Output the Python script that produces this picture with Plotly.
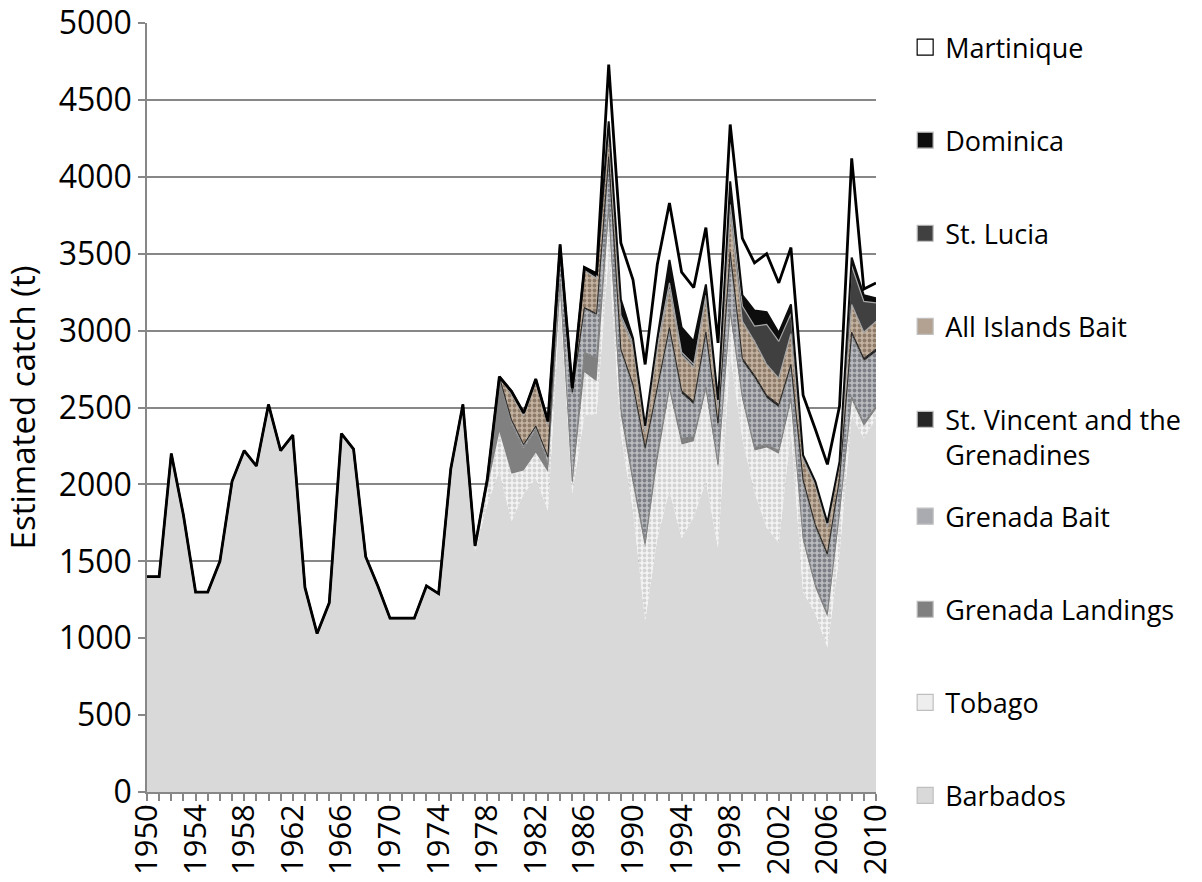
import plotly.graph_objects as go

years = list(range(1950, 2011))

barbados = [1400, 1400, 2200, 1800, 1300, 1300, 1500, 2020, 2220, 2120,
            2520, 2220, 2320, 1330, 1030, 1230, 2330, 2230, 1530, 1340,
            1130, 1130, 1130, 1340, 1290, 2100, 2520, 1560, 1870, 2090,
            1760, 1940, 2040, 1830, 3200, 1940, 2450, 2460, 3500, 2330,
            1830, 1115, 1650, 1960, 1650, 1790, 2020, 1590, 2850, 2300,
            1950, 1720, 1620, 2350, 1300, 1160, 940, 1550, 2450, 2300, 2430]

zeros27 = [0] * 27  # 1950-1976

tobago = zeros27 + [40, 110, 250, 310, 150, 165, 250, 80, 60, 280,
                    210, 250, 120, 170, 475, 500, 650, 610, 490, 590,
                    520, 250, 250, 270, 520, 580, 190, 330, 170, 200,
                    250, 100, 80, 60]
grenada_landings = zeros27 + [0, 50, 340, 320, 140, 150, 50, 30, 20, 130,
                              150, 50, 50, 30, 30, 50, 20, 40, 30, 20,
                              20, 30, 20, 20, 20, 20, 20, 20, 20, 20,
                              20, 20, 20, 20]
grenada_bait = zeros27 + [0, 0, 10, 20, 20, 15, 40, 200, 570, 280,
                          280, 300, 366, 600, 600, 400, 370, 290, 210, 340,
                          250, 350, 230, 450, 300, 280, 200, 360, 370, 370,
                          200, 400, 400, 350]
st_vincent = zeros27 + [0, 0, 10, 10, 10, 10, 10, 10, 10, 10,
                        10, 30, 14, 20, 20, 30, 20, 20, 20, 20,
                        20, 30, 20, 20, 20, 20, 20, 20, 20, 20,
                        20, 20, 20, 20]
all_islands_bait = zeros27 + [0, 0, 0, 165, 190, 280, 210, 30, 20, 240,
                              230, 150, 202, 250, 100, 250, 250, 230, 220, 220,
                              100, 250, 240, 220, 200, 170, 200, 130, 260, 170,
                              90, 180, 170, 180]
st_lucia = zeros27 + [0, 0, 0, 0, 0, 0, 0, 0, 0, 0,
                      0, 30, 18, 20, 10, 20, 40, 20, 20, 20,
                      20, 60, 100, 100, 260, 240, 130, 20, 0, 10,
                      10, 250, 200, 120]
dominica = zeros27 + [0, 0, 0, 20, 15, 25, 20, 10, 5, 20,
                      30, 50, 102, 30, 30, 50, 150, 160, 150, 70,
                      30, 150, 70, 100, 80, 55, 60, 10, 20, 20,
                      10, 55, 40, 30]
martinique = zeros27 + [0, 0, 0, 0, 0, 0, 0, 0, 0, 0,
                        0, 370, 368, 380, 400, 480, 370, 360, 350, 370,
                        370, 370, 370, 310, 380, 325, 370, 390, 340, 380,
                        360, 645, 40, 100]

FONT = "Open Sans"

# name, values, fill bg, pattern fg, line color, line width, legend, rank, swatch
series = [
    ("Barbados", barbados, "#d9d9d9", None, "rgba(0,0,0,0)", 0, "legend2", 9, "#d9d9d9"),
    ("Tobago", tobago, "#f3f3f3", "#d3d3d3", "rgba(0,0,0,0)", 0, "legend2", 8, "#eeeeee"),
    ("Grenada Landings", grenada_landings, "#808080", None, "#808080", 1, "legend2", 7, "#808080"),
    ("Grenada Bait", grenada_bait, "#b9bbbf", "#7c7f85", "#8a8a8a", 1, "legend2", 6, "#a9abb0"),
    ("St. Vincent and the<br>Grenadines", st_vincent, "#262626", None, "#262626", 1, "legend", 5, "#262626"),
    ("All Islands Bait", all_islands_bait, "#c4b3a1", "#8d7a68", "#a6a6a6", 1.2, "legend", 4, "#b3a291"),
    ("St. Lucia", st_lucia, "#404040", None, "#a6a6a6", 1.2, "legend", 3, "#404040"),
    ("Dominica", dominica, "#0d0d0d", None, "#0d0d0d", 2, "legend", 2, "#0d0d0d"),
    ("Martinique", martinique, "#ffffff", None, "#000000", 2.8, "legend", 1, "#ffffff"),
]

fig = go.Figure()
for name, vals, bg, fg, lc, lw, lg, rank, sw in series:
    kw = dict(
        x=years, y=vals, name=name.replace("<br>", " "), mode="lines", stackgroup="one",
        line=dict(color=lc, width=lw), fillcolor=bg, showlegend=False,
        hoverinfo="x+y+name",
    )
    if fg is not None:
        kw["fillpattern"] = dict(shape=".", bgcolor=bg, fgcolor=fg,
                                 size=5, solidity=0.45, fillmode="replace")
    fig.add_trace(go.Scatter(**kw))

# legend entries (square swatches like the original)
for name, vals, bg, fg, lc, lw, lg, rank, sw in series:
    edge = "#000000" if name == "Martinique" else "#bfbfbf"
    fig.add_trace(go.Scatter(
        x=[None], y=[None], mode="markers", name=name, legend=lg,
        legendgroup=name, legendrank=rank, showlegend=True,
        marker=dict(symbol="square", size=16, color=sw,
                    line=dict(color=edge, width=1.2)),
        hoverinfo="skip",
    ))

legend_common = dict(
    xanchor="left", yanchor="top", maxheight=700,
    traceorder="grouped", tracegroupgap=55, valign="top",
    font=dict(family=FONT, size=27), bgcolor="rgba(0,0,0,0)",
)

fig.update_layout(
    width=1202, height=882,
    margin=dict(l=147, r=326, t=23, b=90),
    paper_bgcolor="white", plot_bgcolor="white",
    font=dict(family=FONT, size=27, color="#000000"),
    showlegend=True,
    legend=dict(x=1.040, y=1.0, **legend_common),
    legend2=dict(x=1.040, y=0.390, **legend_common),
    xaxis=dict(
        range=[1950, 2010], tickmode="array",
        tickvals=list(range(1950, 2011, 4)),
        ticktext=[str(y) for y in range(1950, 2011, 4)],
        tickangle=-90, ticks="outside", ticklen=7, tickcolor="#878787",
        tickwidth=1.5, ticklabelstandoff=-9, ticklabeloverflow="allow",
        minor=dict(dtick=1, ticks="outside", ticklen=7, tickcolor="#878787", tickwidth=1.5),
        showgrid=False, showline=True, linecolor="#878787", linewidth=1.5,
        tickfont=dict(family=FONT, size=31), zeroline=False, automargin=False,
    ),
    yaxis=dict(
        range=[0, 5000], dtick=500, ticks="outside", ticklen=7,
        tickcolor="#878787", tickwidth=1.5, ticklabeloverflow="allow",
        showgrid=True, gridcolor="#878787", gridwidth=1.5,
        showline=True, linecolor="#878787", linewidth=1.5,
        tickfont=dict(family=FONT, size=32), zeroline=False, automargin=False,
        title=dict(text="Estimated catch (t)", font=dict(family=FONT, size=33), standoff=24),
    ),
)

# remove the default 8px page margin so the figure fills the window exactly
fig.write_html("out.html", config={"displayModeBar": False},
               post_script="document.body.style.margin='0px';")
